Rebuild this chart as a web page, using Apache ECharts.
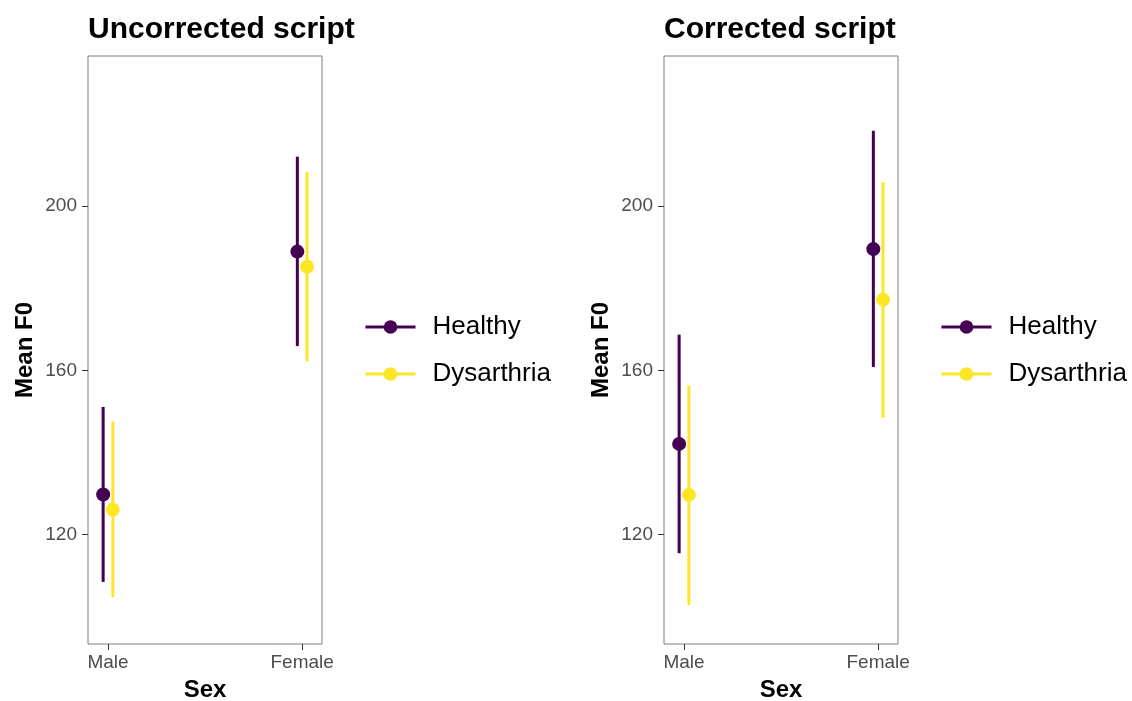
<!DOCTYPE html>
<html>
<head>
<meta charset="utf-8">
<script src="https://cdn.jsdelivr.net/npm/echarts@6/dist/echarts.min.js"></script>
<style>
html,body{margin:0;padding:0;background:#fff;}
#chart{width:1132px;height:701px;}
</style>
</head>
<body>
<div id="chart"></div>
<script>
// ---- data ----
const sexes = ['Male', 'Female'];
const groups = ['Healthy', 'Dysarthria'];
const panelTitles = ['Uncorrected script', 'Corrected script'];
const yTicks = [120, 160, 200];

const uncorrHealthyMean = [129.8, 188.9];
const uncorrHealthyLow  = [108.5, 165.9];
const uncorrHealthyHigh = [151.1, 212.0];
const uncorrDysMean = [126.1, 185.2];
const uncorrDysLow  = [104.8, 162.2];
const uncorrDysHigh = [147.5, 208.3];

const corrHealthyMean = [142.1, 189.5];
const corrHealthyLow  = [115.5, 160.8];
const corrHealthyHigh = [168.7, 218.3];
const corrDysMean = [129.7, 177.2];
const corrDysLow  = [102.9, 148.4];
const corrDysHigh = [156.3, 205.8];

// ---- styling ----
const colors = {Healthy: '#440154', Dysarthria: '#FDE725'};
const dodge = {Healthy: -0.025, Dysarthria: 0.025};
const FONT = '"Liberation Sans", Arial, Helvetica, sans-serif';

const panels = [
  {Healthy: [uncorrHealthyMean, uncorrHealthyLow, uncorrHealthyHigh],
   Dysarthria: [uncorrDysMean, uncorrDysLow, uncorrDysHigh]},
  {Healthy: [corrHealthyMean, corrHealthyLow, corrHealthyHigh],
   Dysarthria: [corrDysMean, corrDysLow, corrDysHigh]}
];

const gridLefts = [88, 664];
const chart = echarts.init(document.getElementById('chart'), null, {renderer: 'canvas'});

const grids = [], xAxes = [], yAxes = [], titles = [], legends = [], series = [];
panels.forEach((p, i) => {
  grids.push({left: gridLefts[i], top: 56, width: 234, height: 588, show: true,
    borderColor: '#7f7f7f', borderWidth: 1, backgroundColor: 'transparent',
    containLabel: false, outerBoundsMode: 'none'});
  titles.push({text: panelTitles[i], left: gridLefts[i], top: 15, padding: 0,
    textStyle: {fontFamily: FONT, fontSize: 30, fontWeight: 'bold', color: '#000'}});
  xAxes.push({type: 'value', gridIndex: i, min: 0.897, max: 2.102,
    name: 'Sex', nameLocation: 'middle', nameGap: 34,
    nameTextStyle: {fontFamily: FONT, fontSize: 24, fontWeight: 'bold', color: '#000'},
    axisLine: {show: false}, splitLine: {show: false},
    axisTick: {show: true, length: 6, customValues: [1, 2], lineStyle: {color: '#333', width: 1}},
    axisLabel: {customValues: [1, 2], margin: 9, fontFamily: FONT, fontSize: 19, color: '#4d4d4d',
      formatter: v => sexes[Math.round(v) - 1] || ''}
  });
  yAxes.push({type: 'value', gridIndex: i, min: 93.4, max: 236.5,
    name: 'Mean F0', nameLocation: 'middle', nameGap: 51, nameRotate: 90,
    nameTextStyle: {fontFamily: FONT, fontSize: 24, fontWeight: 'bold', color: '#000'},
    axisLine: {show: false}, splitLine: {show: false},
    axisTick: {show: true, length: 6, customValues: yTicks, lineStyle: {color: '#333', width: 1}},
    axisLabel: {customValues: yTicks, margin: 11, fontFamily: FONT, fontSize: 19, color: '#4d4d4d'}
  });
  legends.push({orient: 'vertical', left: gridLefts[i] + 276, top: 313, padding: 0,
    data: groups, itemWidth: 50, itemHeight: 17, itemGap: 19,
    lineStyle: {width: 3, opacity: 1}, selectedMode: false,
    textStyle: {fontFamily: FONT, fontSize: 26, color: '#000', lineHeight: 28, padding: [0, 0, 0, 12]}
  });
  groups.forEach(g => {
    const [mean, low, high] = p[g];
    series.push({
      name: g + ' range ' + i, type: 'custom', xAxisIndex: i, yAxisIndex: i, z: 1,
      data: sexes.map((s, k) => [k + 1 + dodge[g], low[k], high[k]]),
      encode: {x: 0, y: [1, 2]},
      silent: true,
      renderItem: (params, api) => {
        const x = api.value(0);
        const a = api.coord([x, api.value(1)]);
        const b = api.coord([x, api.value(2)]);
        return {type: 'line', shape: {x1: a[0], y1: a[1], x2: b[0], y2: b[1]},
          style: {stroke: colors[g], lineWidth: 3, lineCap: 'butt'}};
      }
    });
  });
  groups.forEach(g => {
    const [mean] = p[g];
    series.push({
      name: g, type: 'line', xAxisIndex: i, yAxisIndex: i, z: 3,
      data: sexes.map((s, k) => [k + 1 + dodge[g], mean[k]]),
      symbol: 'circle', symbolSize: 14, showSymbol: true,
      color: colors[g],
      itemStyle: {color: colors[g]},
      lineStyle: {width: 0, opacity: 0, color: colors[g]},
      emphasis: {disabled: true}, silent: true, animation: false
    });
  });
});

chart.setOption({
  animation: false,
  backgroundColor: '#fff',
  title: titles, grid: grids, xAxis: xAxes, yAxis: yAxes, legend: legends, series: series
});
</script>
</body>
</html>
